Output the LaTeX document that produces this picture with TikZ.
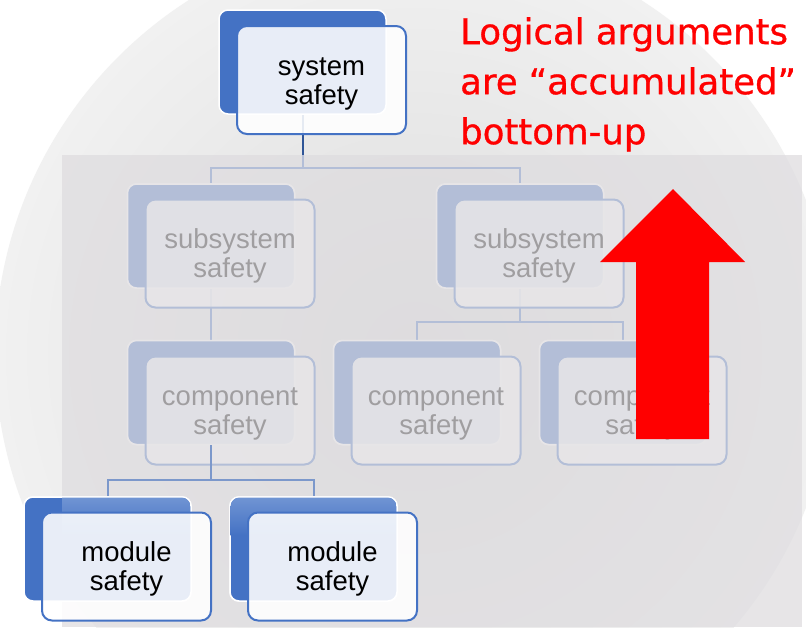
\documentclass[tikz,border=0pt]{standalone}
\usepackage{fontspec}
\setmainfont{Liberation Sans}
\newfontfamily\notefont[FakeBold=0.9]{DejaVu Sans}
\usetikzlibrary{calc}
\definecolor{accent}{HTML}{4472C4}
\definecolor{accentlight}{HTML}{7094D3}
\definecolor{linkblue}{HTML}{2F5597}
\definecolor{fadeblue}{HTML}{7C98CB}
\definecolor{veil}{HTML}{DEDCDF}
\definecolor{discin}{HTML}{DDDDDD}
\definecolor{discout}{HTML}{F1F1F1}
% two-line card label, set a little low in its card
\newcommand\cardtext[2]{\rule{0pt}{25pt}#1\\#2}
\begin{document}
\begin{tikzpicture}[x=1pt,y=-1pt,
  backbox/.style={draw=white, line width=1.5pt, fill=accent, rounded corners=9pt,
    minimum width=167pt, minimum height=104pt, inner sep=0pt},
  frontbox/.style={draw=accent, line width=2pt, fill=white, fill opacity=0.88,
    text opacity=1, rounded corners=10pt, minimum width=169pt, minimum height=108pt,
    inner sep=0pt, align=center, font=\fontsize{27.5}{29}\selectfont},
  link/.style={draw=linkblue, line width=2pt},
  dimlink/.style={draw=accent, line width=2pt},
  fadelink/.style={draw=fadeblue, line width=2pt},
]
\useasboundingbox (0,0) rectangle (806,627);
\fill[white] (0,0) rectangle (806,627);

% soft grey disc behind the hierarchy
\begin{scope}
  \clip (0,0) rectangle (806,627);
  \shade[inner color=discin, outer color=discout] (415,354) circle (420);
\end{scope}

% bus levels of the tree
\coordinate (bus1) at (0,168);
\coordinate (bus2) at (0,322);
\coordinate (bus3) at (0,480);
\coordinate (sysB) at (302.5,62);
\coordinate (sysS) at (302.5,114);

% back (shadow) plates of the middle levels
\node[backbox] (sub1B)  at (211,236) {};
\node[backbox] (sub2B)  at (520,236) {};
\node[backbox] (comp1B) at (211,392.5) {};
\node[backbox] (comp2B) at (417,392.5) {};
\node[backbox] (comp3B) at (623,392.5) {};

% connectors of the dimmed middle levels
\draw[dimlink] (sysS |- 0,155) -- (sysS |- bus1) -| (sub1B.north);
\draw[dimlink] (sysS |- bus1) -| (sub2B.north);
\draw[dimlink] (sub1B.south) -- (comp1B.north);
\draw[dimlink] (sub2B.south) -- (sub2B.south |- bus2) -| (comp2B.north);
\draw[dimlink] (sub2B.south |- bus2) -| (comp3B.north);

% plates again over the lines, then the front cards
\node[backbox] at (sub1B)  {};
\node[backbox] at (sub2B)  {};
\node[backbox] at (comp1B) {};
\node[backbox] at (comp2B) {};
\node[backbox] at (comp3B) {};
\node[frontbox] (sub1)  at ($(sub1B)+(19,17.5)$)  {\cardtext{subsystem}{safety}};
\node[frontbox] (sub2)  at ($(sub2B)+(19,17.5)$)  {\cardtext{subsystem}{safety}};
\node[frontbox] (comp1) at ($(comp1B)+(19,18)$) {\cardtext{component}{safety}};
\node[frontbox] (comp2) at ($(comp2B)+(19,18)$) {\cardtext{component}{safety}};
\node[frontbox] (comp3) at ($(comp3B)+(19,18)$) {\cardtext{component}{safety}};

% translucent veil dimming the middle levels
\fill[veil, fill opacity=0.72] (62,155) rectangle (802,627);

% highlighted bottom level
\node[backbox] (mod1B) at (107.5,549) {};
\node[backbox] (mod2B) at (313.5,549) {};
\draw[fadelink] (comp1B.south) -- (comp1B.south |- bus3) -| (mod1B.north);
\draw[fadelink] (comp1B.south |- bus3) -| (mod2B.north);
\node[backbox] at (mod1B) {};
\node[backbox] at (mod2B) {};
% lighter top sheen on the plates where the veil reaches them
\begin{scope}
  \clip[rounded corners=9pt] (24.5,497.5) rectangle (190.5,600.5);
  \shade[top color=accentlight, bottom color=accent] (62,497.5) rectangle (190.5,535);
\end{scope}
\begin{scope}
  \clip[rounded corners=9pt] (230.5,497.5) rectangle (396.5,600.5);
  \shade[top color=accentlight, bottom color=accent] (230.5,497.5) rectangle (396.5,535);
\end{scope}
\node[frontbox] (mod1) at ($(mod1B)+(19,17.5)$) {\cardtext{module}{safety}};
\node[frontbox] (mod2) at ($(mod2B)+(19,17.5)$) {\cardtext{module}{safety}};

% highlighted top level
\draw[link] (sysS) -- (sysS |- 0,155);
\node[backbox] (sysTop) at (sysB) {};
\node[frontbox] (sys) at ($(sysB)+(19,18)$) {\cardtext{system}{safety}};

% message and upward arrow
\node[anchor=north west, inner sep=0pt, align=left, text=red,
  font=\notefont\fontsize{35.5}{50}\selectfont] (note) at (460,17)
  {Logical arguments\\are “accumulated”\\bottom-up};
\fill[red] (636,439) -- (636,262) -- (600,262) -- (673,189) -- (745,262)
  -- (709,262) -- (709,439) -- cycle;
\end{tikzpicture}
\end{document}
